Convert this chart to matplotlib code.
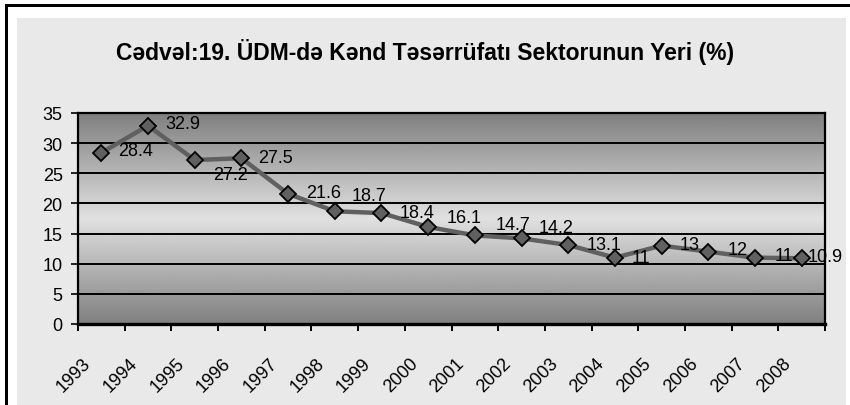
import numpy as np
import matplotlib
matplotlib.use("Agg")
import matplotlib.pyplot as plt
from matplotlib.patches import Rectangle
from matplotlib.transforms import ScaledTranslation

plt.rcParams['font.family'] = ['Liberation Sans', 'DejaVu Sans']

# -------- Data --------
years = ["1993", "1994", "1995", "1996", "1997", "1998", "1999", "2000",
         "2001", "2002", "2003", "2004", "2005", "2006", "2007", "2008"]
share = [28.4, 32.9, 27.2, 27.5, 21.6, 18.7, 18.4, 16.1,
         14.7, 14.2, 13.1, 11, 13, 12, 11, 10.9]
value_labels = ["28.4", "32.9", "27.2", "27.5", "21.6", "18.7", "18.4", "16.1",
                "14.7", "14.2", "13.1", "11", "13", "12", "11", "10.9"]

title = "Cədvəl:19. ÜDM-də Kənd Təsərrüfatı Sektorunun Yeri (%)"

# label offsets in pixels (dx, dy) relative to each point
label_offsets = [(17, 2), (17, 2), (18, -14), (17, 1), (18, 1), (17, 16),
                 (18, 1), (18, 9), (21, 11), (17, 11), (18, 1), (17, 0),
                 (18, 1), (19, 2), (20, 2), (6, 2)]

W, H = 850, 406
fig = plt.figure(figsize=(W / 100, H / 100), dpi=100)
fig.patch.set_facecolor("white")


def px_rect(x0, y0, x1, y1, color):
    # rectangle in pixel coords measured from top-left
    fig.patches.append(Rectangle((x0 / W, 1 - y1 / H), (x1 - x0) / W, (y1 - y0) / H,
                                 transform=fig.transFigure, facecolor=color,
                                 edgecolor="none", zorder=-10))


# ---- outer frame ----
px_rect(17, 19, 846, 406, "#e9e9e9")
px_rect(5, 5, 850, 8, "black")
px_rect(5, 5, 8, 406, "black")

fig.text(425 / W, 1 - 60 / H, title, ha="center", va="baseline",
         fontsize=16.5, fontweight="bold")

# ---- plot area ----
left, right, top, bottom = 78, 825, 114, 325
ax = fig.add_axes([left / W, 1 - bottom / H, (right - left) / W, (bottom - top) / H])
ax.set_zorder(5)

x = np.arange(len(years))
ax.set_xlim(-0.5, len(years) - 0.5)
ax.set_ylim(0, 35)

# background gradient: dark at edges, light in the middle
t = np.linspace(0, 1, 256)
shade = 0.50 + 0.38 * (1 - np.abs(t - 0.5) * 2)
ax.imshow(shade[:, None], extent=(-0.5, len(years) - 0.5, 0, 35), aspect="auto",
          cmap="gray", vmin=0, vmax=1, origin="lower", zorder=0)

for yv in range(5, 35, 5):
    ax.axhline(yv, color="black", lw=1.4, zorder=1)

ax.plot(x, share, color="#606060", lw=3.2, zorder=2,
        marker="D", markersize=8, markerfacecolor="#606060",
        markeredgecolor="black", markeredgewidth=1.3)

for xi, yi, txt, (dx, dy) in zip(x, share, value_labels, label_offsets):
    ax.annotate(txt, (xi, yi), xytext=(dx, dy), textcoords="offset pixels",
                ha="left", va="center", fontsize=13, color="black", zorder=3,
                annotation_clip=False)

for side in ["top", "left", "right"]:
    ax.spines[side].set_linewidth(1.6)
ax.spines["bottom"].set_linewidth(2.4)

ax.set_yticks(range(0, 36, 5))
ax.tick_params(axis="y", length=5, width=1.2, pad=6, labelsize=13)

ax.set_xticks(np.arange(-0.5, len(years), 1))
ax.set_xticklabels([])
ax.tick_params(axis="x", which="major", length=5, width=1.4)
ax.set_xticks(x, minor=True)
ax.set_xticklabels(years, minor=True, rotation=45, ha="right", fontsize=13)
ax.tick_params(axis="x", which="minor", length=0, pad=22)
shift = ScaledTranslation(-7 / 100, 0, fig.dpi_scale_trans)
for lab in ax.get_xticklabels(minor=True):
    lab.set_transform(lab.get_transform() + shift)

fig.savefig("out.png", dpi=100)
